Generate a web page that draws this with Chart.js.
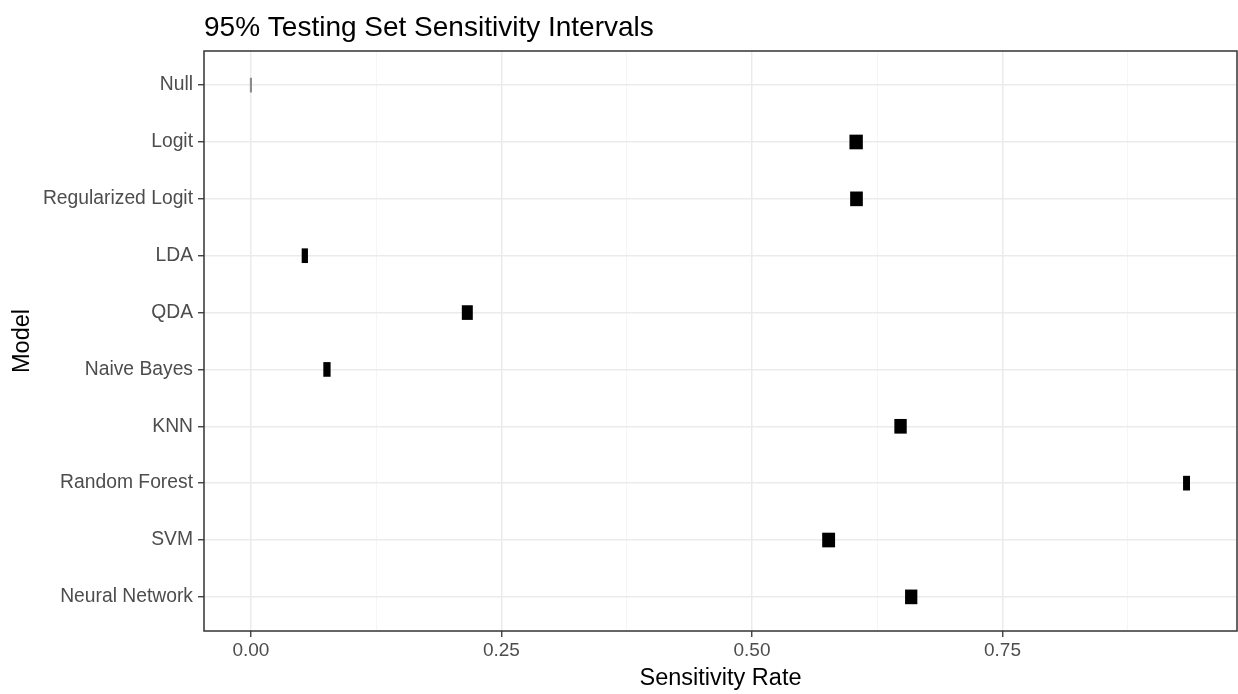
<!DOCTYPE html>
<html><head><meta charset="utf-8">
<script src="https://cdn.jsdelivr.net/npm/chart.js@4/dist/chart.umd.min.js"></script>
<style>html,body{margin:0;padding:0;background:#fff;} #wrap{width:1238px;height:694px;position:relative;}</style>
</head><body><div id="wrap"><canvas id="c" width="1238" height="694"></canvas></div>
<script>
const models = ["Null","Logit","Regularized Logit","LDA","QDA","Naive Bayes","KNN","Random Forest","SVM","Neural Network"];
const lowerBound = [0, 0.5976, 0.5983, 0.0510, 0.2108, 0.0726, 0.6424, 0.9305, 0.5704, 0.6531];
const upperBound = [0, 0.6103, 0.6103, 0.0566, 0.2211, 0.0792, 0.6541, 0.9368, 0.5826, 0.6647];
const xMajorTicks = [0, 0.25, 0.5, 0.75];
const xMinorTicks = [0.125, 0.375, 0.625, 0.875];
const chartTitle = "95% Testing Set Sensitivity Intervals";
const xTitle = "Sensitivity Rate";
const yTitle = "Model";

const FONT = '"Liberation Sans", Arial, Helvetica, sans-serif';
const isMajor = v => xMajorTicks.some(t => Math.abs(t - v) < 1e-9);

const frame = {
  id: 'frame',
  afterDatasetsDraw(chart) {
    const {ctx, chartArea: a} = chart;
    ctx.save();
    ctx.strokeStyle = '#333333';
    ctx.lineWidth = 1.5;
    ctx.strokeRect(a.left, a.top, a.right - a.left, a.bottom - a.top);
    ctx.restore();
  },
  afterDraw(chart) {
    const {ctx, chartArea: a} = chart;
    ctx.save();
    ctx.fillStyle = '#000000';
    ctx.font = '28px ' + FONT;
    ctx.textBaseline = 'alphabetic';
    ctx.textAlign = 'left';
    ctx.fillText(chartTitle, a.left, 36);
    ctx.restore();
  }
};

new Chart(document.getElementById('c'), {
  type: 'bar',
  data: {
    datasets: [{
      data: models.map((m, i) => ({x: [lowerBound[i], upperBound[i]], y: i})),
      backgroundColor: ctx => {
        const i = ctx.dataIndex;
        return (upperBound[i] - lowerBound[i]) < 0.001 ? '#8c8c8c' : '#000000';
      },
      borderWidth: 0,
      barThickness: 14,
      minBarLength: 1.5
    }]
  },
  options: {
    indexAxis: 'y',
    responsive: false,
    animation: false,
    devicePixelRatio: 1,
    layout: {padding: {top: 51, right: 1, left: 0, bottom: 0}},
    plugins: {legend: {display: false}, tooltip: {enabled: false}, title: {display: false}},
    scales: {
      x: {
        type: 'linear',
        min: -0.0468,
        max: 0.984,
        offset: false,
        afterBuildTicks: axis => {
          axis.ticks = xMajorTicks.concat(xMinorTicks).sort((a, b) => a - b).map(v => ({value: v}));
        },
        afterFit: s => { s.height = 63; },
        ticks: {
          autoSkip: false,
          maxRotation: 0,
          padding: 2,
          color: '#4D4D4D',
          font: {family: FONT, size: 19},
          callback: v => isMajor(v) ? v.toFixed(2) : ''
        },
        grid: {
          offset: false,
          color: ctx => ctx.tick && isMajor(ctx.tick.value) ? '#EBEBEB' : '#F3F3F3',
          lineWidth: ctx => ctx.tick && isMajor(ctx.tick.value) ? 1.5 : 0.8,
          tickColor: ctx => ctx.tick && isMajor(ctx.tick.value) ? '#333333' : 'rgba(0,0,0,0)',
          tickLength: 6,
          tickWidth: 1.3
        },
        border: {display: false},
        title: {
          display: true,
          text: xTitle,
          color: '#000000',
          font: {family: FONT, size: 23.5},
          padding: {top: 0, bottom: 1.3}
        }
      },
      y: {
        type: 'linear',
        reverse: true,
        min: -0.6,
        max: 9.6,
        offset: false,
        afterBuildTicks: axis => { axis.ticks = models.map((m, i) => ({value: i})); },
        afterFit: s => { s.width = 204; },
        ticks: {
          autoSkip: false,
          padding: 5,
          color: '#4D4D4D',
          font: {family: FONT, size: 19.3},
          callback: v => models[v] !== undefined ? models[v] : ''
        },
        grid: {
          offset: false,
          color: '#EBEBEB',
          lineWidth: 1.5,
          tickColor: '#333333',
          tickLength: 6,
          tickWidth: 1.3
        },
        border: {display: false},
        title: {
          display: true,
          text: yTitle,
          color: '#000000',
          font: {family: FONT, size: 23.5},
          padding: {top: 8, bottom: 0}
        }
      }
    }
  },
  plugins: [frame]
});
</script></body></html>
